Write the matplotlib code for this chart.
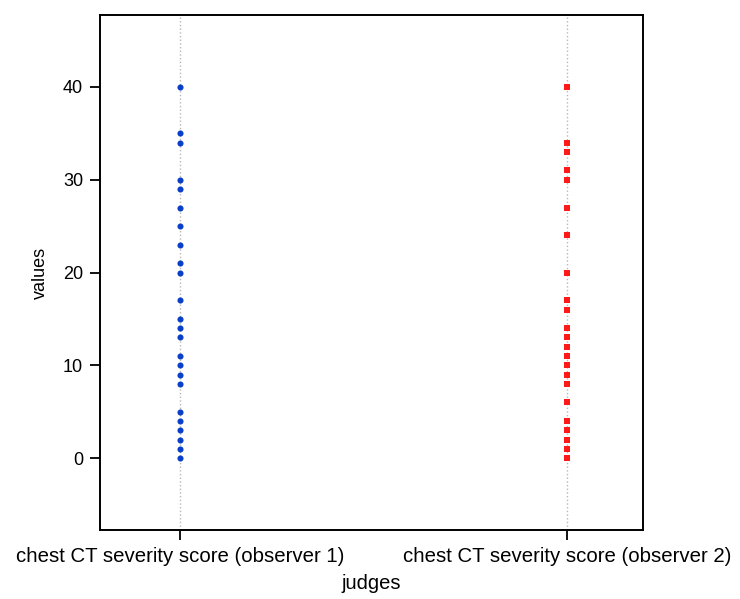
import matplotlib.pyplot as plt

plt.rcParams['font.family'] = ['Liberation Sans', 'DejaVu Sans']

# judges and their scores
judges = ['chest CT severity score (observer 1)', 'chest CT severity score (observer 2)']
observer1 = [40, 35, 34, 30, 29, 27, 25, 23, 21, 20, 17, 15, 14, 13, 11, 10, 9, 8,
             5, 4, 3, 2, 1, 0]
observer2 = [40, 34, 33, 31, 30, 27, 24, 20, 17, 16, 14, 13, 12, 11, 10, 9, 8, 6,
             4, 3, 2, 1, 0]

fig = plt.figure(figsize=(7.40, 5.99), dpi=100)
ax = fig.add_axes([0.135, 0.115, 0.734, 0.86])

for i in range(len(judges)):
    ax.axvline(i, color='#b8b8b8', linestyle=':', linewidth=1, zorder=1)

ax.plot([0] * len(observer1), observer1, 'o', color='#0a3fc8', markersize=4.4,
        markeredgewidth=0, zorder=3)
ax.plot([1] * len(observer2), observer2, 's', color='#ff1a1a', markersize=4.6,
        markeredgewidth=0, zorder=3)

ax.set_xlim(-0.206, 1.196)
ax.set_ylim(-7.76, 47.76)
ax.set_xticks(range(len(judges)))
ax.set_xticklabels(judges, fontsize=14.7)
ax.set_yticks([0, 10, 20, 30, 40])

ax.tick_params(direction='out', length=7, width=1.3, pad=5)
ax.tick_params(axis='y', labelsize=13)
for s in ax.spines.values():
    s.set_linewidth(1.4)

ax.set_xlabel('judges', fontsize=14.5, labelpad=6)
ax.set_ylabel('values', fontsize=13, labelpad=10)

fig.savefig('out.png', dpi=100)
